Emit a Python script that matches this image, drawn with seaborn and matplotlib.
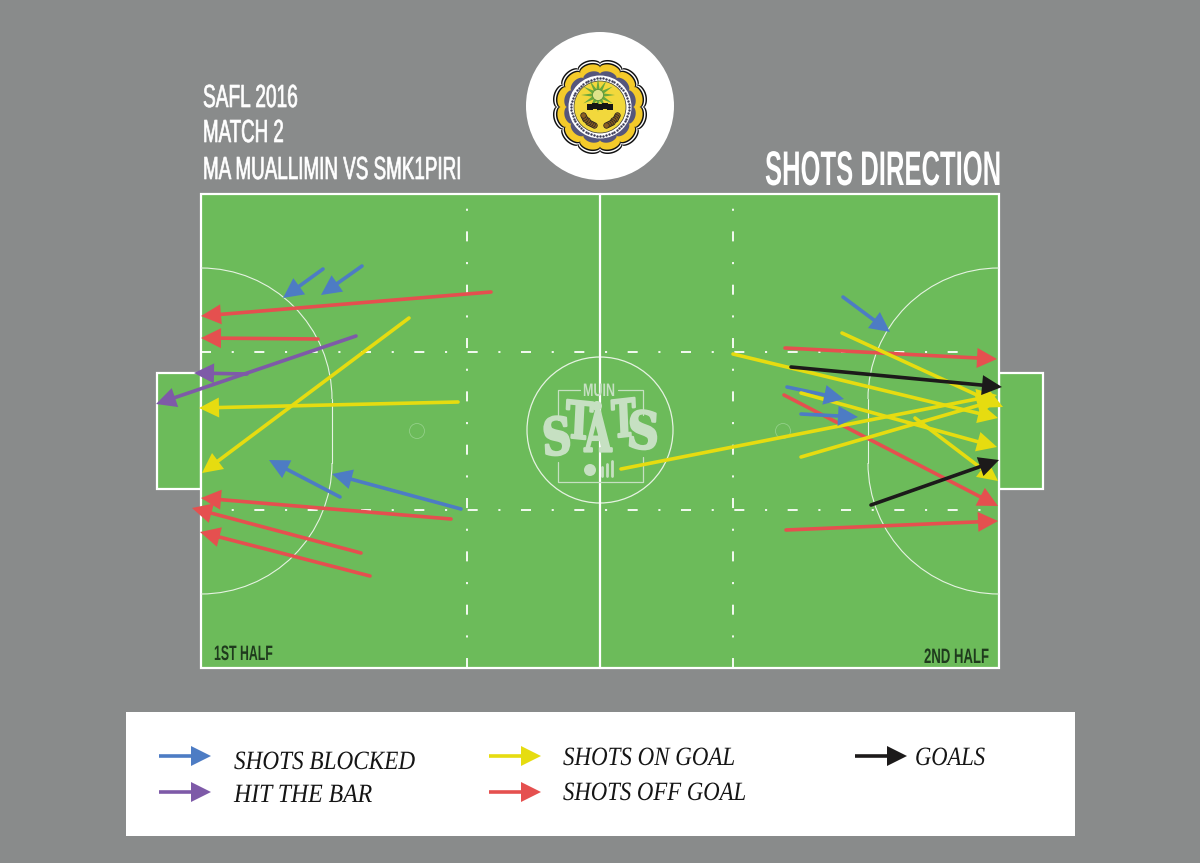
import numpy as np
import pandas as pd
import matplotlib
matplotlib.use('Agg')
import matplotlib.pyplot as plt
from matplotlib.patches import Rectangle, Circle, Arc
from matplotlib.patheffects import AbstractPathEffect
from matplotlib.transforms import Affine2D
import seaborn as sns

# shots: start x, start y, tip x, tip y
shots_off = [(491, 292, 201, 316), (318, 339, 201, 338), (451, 519, 201, 498),
             (361, 553, 192, 508), (370, 576, 200, 532),
             (785, 348, 997, 359), (784, 395, 998, 506), (786, 530, 998, 521)]
shots_blocked = [(323, 269, 283, 298), (362, 266, 321, 295), (340, 497, 269, 460),
                 (461, 509, 332, 474),
                 (843, 297, 890, 332), (787, 387, 844, 399), (801, 414, 858, 417)]
shots_bar = [(247, 374, 194, 373), (356, 336, 156, 404)]
shots_on = [(458, 402, 199, 408), (409, 318, 202, 473),
            (842, 333, 1003, 407), (733, 354, 998, 418), (801, 393, 997, 447),
            (915, 418, 998, 481), (621, 469, 997, 395), (801, 457, 997, 400)]
shots_goal = [(791, 367, 1002, 387), (871, 505, 999, 460)]

kinds = ['off', 'blocked', 'bar', 'on', 'goal']
kind_shots = [shots_off, shots_blocked, shots_bar, shots_on, shots_goal]
kind_colors = ['#e5504f', '#4d7cc4', '#7e5aa8', '#e6dc10', '#1c1a1a']

legend_labels = ['SHOTS BLOCKED', 'HIT THE BAR', 'SHOTS ON GOAL', 'SHOTS OFF GOAL', 'GOALS']
legend_kinds = ['blocked', 'bar', 'on', 'off', 'goal']

GREY = '#898b8b'
GREEN = '#6cbb5a'
PALE = '#c6e0c2'
NARROW = ['Liberation Sans Narrow', 'Liberation Sans']
HEAD_LEN = 20
HEAD_W = 10

sns.set_theme(style='white')
plt.rcParams['lines.scale_dashes'] = False
fig = plt.figure(figsize=(12, 8.63), dpi=100, facecolor=GREY)
ax = fig.add_axes([0, 0, 1, 1])
ax.set_xlim(0, 1200)
ax.set_ylim(863, 0)
ax.axis('off')
renderer = fig.canvas.get_renderer()


class Squeeze(AbstractPathEffect):
    # narrows a text sideways, none of the installed fonts is condensed enough
    def __init__(self, x0, sx, stroke=0):
        super().__init__()
        self.x0 = x0
        self.sx = sx
        self.stroke = stroke

    def draw_path(self, renderer, gc, tpath, affine, rgbFace=None):
        t = affine + Affine2D().translate(-self.x0, 0).scale(self.sx, 1).translate(self.x0, 0)
        gc0 = renderer.new_gc()
        gc0.copy_properties(gc)
        if self.stroke:
            gc0.set_linewidth(self.stroke)
            gc0.set_foreground(rgbFace)
        renderer.draw_path(gc0, tpath, t, rgbFace)
        gc0.restore()


def fit_text(s, x0, x1, base, size, stroke=0, **kw):
    # anchored on the right end, so the text before squeezing stays in the figure
    t = ax.text(x1, base, s, fontsize=size, ha='right', va='baseline', **kw)
    w = t.get_window_extent(renderer).width
    t.set_path_effects([Squeeze(ax.transData.transform((x1, base))[0], (x1 - x0) / w, stroke)])
    return t


def letter(s, x, y, size, sx, rot):
    t = ax.text(x, y, s, fontsize=size, ha='center', va='center', rotation=rot, color=PALE,
                family='DejaVu Serif', weight='bold', zorder=1.5)
    t.set_path_effects([Squeeze(ax.transData.transform((x, y))[0], sx, 1.6)])


def scallop(cx, cy, r, amp, **kw):
    th = np.linspace(0, 2 * np.pi, 721)
    rr = r + amp * np.abs(np.cos(6 * th + np.pi / 2)) ** 0.5
    ax.fill(cx + rr * np.cos(th), cy + rr * np.sin(th), **kw)


def head(x0, y0, x1, y1, color, z):
    u = np.array([x1 - x0, y1 - y0], dtype=float)
    u = u / np.hypot(*u)
    n = np.array([-u[1], u[0]])
    tip = np.array([x1, y1])
    back = tip - HEAD_LEN * u
    pts = np.array([tip, back + HEAD_W * n, back - HEAD_W * n])
    ax.fill(pts[:, 0], pts[:, 1], color=color, lw=0, zorder=z)


# pitch
ax.add_patch(Rectangle((157, 373), 44, 116, fc=GREEN, ec='white', lw=1.6))
ax.add_patch(Rectangle((999, 373), 44, 116, fc=GREEN, ec='white', lw=1.6))
ax.add_patch(Rectangle((201, 194), 798, 474, fc=GREEN, ec='white', lw=1.6, zorder=1))
ax.plot([600, 600], [194, 668], color='white', lw=1.6, zorder=1.2)

thin = dict(color='#e6f3e2', lw=0.8, zorder=1.1)
for xc, t1, t2, yc in [(201, 270, 360, 399), (201, 0, 90, 463), (999, 180, 270, 399), (999, 90, 180, 463)]:
    ax.add_patch(Arc((xc, yc), 262, 262, theta1=t1, theta2=t2, color=thin['color'], lw=thin['lw'], zorder=1.1))
ax.plot([332, 332], [399, 463], **thin)
ax.plot([868, 868], [399, 463], **thin)
ax.add_patch(Circle((600, 430), 73, fc='none', ec=thin['color'], lw=0.9, zorder=1.1))
ax.add_patch(Circle((417, 431), 7.5, fc='none', ec='#93d088', lw=0.6, zorder=1.1))
ax.add_patch(Circle((783, 431), 7.5, fc='none', ec='#93d088', lw=0.6, zorder=1.1))

pat = (7.2, 14.9, 1.5, 14.8)
for yh in [352, 510]:
    ln, = ax.plot([201, 999], [yh, yh], color='white', lw=1.3, dash_capstyle='butt', zorder=1.2)
    ln.set_linestyle((0, pat))
for xv in [467, 733]:
    ln, = ax.plot([xv, xv], [194, 668], color='white', lw=1.3, dash_capstyle='butt', zorder=1.2)
    ln.set_linestyle((11.5, pat))

# middle logo
ax.plot([558, 558, 580], [420, 390, 390], color=PALE, lw=0.9, zorder=1.4)
ax.plot([618, 643, 643], [390, 390, 415], color=PALE, lw=0.9, zorder=1.4)
ax.plot([558, 558, 643, 643], [462, 482, 482, 457], color=PALE, lw=0.9, zorder=1.4)
fit_text('MUIN', 583, 615, 396, 13, color=PALE, family=NARROW, weight='bold', zorder=1.5)
letter('S', 557, 441, 37, 0.78, 4)
letter('T', 579, 425, 37, 0.70, -4)
letter('A', 598, 436, 40, 0.62, 0)
letter('T', 624, 423, 37, 0.62, 4)
letter('S', 643, 435, 37, 0.86, -4)
ax.add_patch(Circle((597, 406), 5, fc=PALE, ec='none', zorder=1.5))
ax.add_patch(Circle((590, 470), 6, fc=PALE, ec='none', zorder=1.5))
for xb, hb in zip([602, 607, 612], [9, 12, 15]):
    ax.plot([xb, xb], [476, 476 - hb], color=PALE, lw=2, zorder=1.5)

# shots, one row per end of a shaft, the shaft stops where the head begins
rows = []
for kind, shots in zip(kinds, kind_shots):
    for i, (x0, y0, x1, y1) in enumerate(shots):
        L = np.hypot(x1 - x0, y1 - y0)
        xs = x1 - (x1 - x0) / L * (HEAD_LEN - 2)
        ys = y1 - (y1 - y0) / L * (HEAD_LEN - 2)
        rows.append({'shot': kind + str(i), 'kind': kind, 'x': x0, 'y': y0, 'step': 0})
        rows.append({'shot': kind + str(i), 'kind': kind, 'x': xs, 'y': ys, 'step': 1})
df = pd.DataFrame(rows)
sns.lineplot(data=df, x='x', y='y', hue='kind', hue_order=kinds, units='shot', estimator=None,
             sort=False, palette=dict(zip(kinds, kind_colors)), linewidth=2.6, legend=False,
             ax=ax, zorder=3)
for z, (kind, shots, col) in enumerate(zip(kinds, kind_shots, kind_colors)):
    for s in shots:
        head(*s, col, 3.1 + z * 0.1)
ax.set_xlim(0, 1200)
ax.set_ylim(863, 0)
ax.axis('off')

# texts on top
white = dict(color='white', family=NARROW)
fit_text('SAFL 2016', 203, 298, 107, 23, stroke=0.5, **white)
fit_text('MATCH 2', 203, 284, 142, 23, stroke=0.5, **white)
fit_text('MA MUALLIMIN VS SMK1PIRI', 203, 462, 179, 23, stroke=0.5, **white)
fit_text('SHOTS DIRECTION', 765, 1001, 185, 35, weight='bold', **white)
dark = dict(color='#1f3a1d', family=NARROW, weight='bold', zorder=2)
fit_text('1ST HALF', 214, 273, 660, 15, **dark)
fit_text('2ND HALF', 924, 989, 663, 15, **dark)

# school badge
ax.add_patch(Circle((600, 106), 74, fc='white', ec='none', zorder=2))
bx, by = 600, 107
scallop(bx, by, 44, 4, color='#111111', lw=0, zorder=2.1)
scallop(bx, by, 42.5, 4, color='white', lw=0, zorder=2.2)
scallop(bx, by, 41, 4, color='#111111', lw=0, zorder=2.3)
scallop(bx, by, 39.5, 4, color='#f4ca2a', lw=0, zorder=2.4)
scallop(bx, by, 33, 3.5, color='#55567c', lw=0, zorder=2.5)
ax.add_patch(Circle((bx, by), 31.5, fc='white', ec='none', zorder=2.6))
th = np.linspace(0, 2 * np.pi, 60, endpoint=False)
ax.scatter(bx + 28.8 * np.cos(th), by + 28.8 * np.sin(th), s=3, color='#3a3a55', lw=0, zorder=2.7)
ax.add_patch(Circle((bx, by), 26, fc='#f2d83c', ec='#333333', lw=0.5, zorder=2.8))
th = np.linspace(0, 2 * np.pi, 25)
rr = np.where(np.arange(25) % 2 == 0, 17, 6)
ax.fill(bx - 2 + rr * np.cos(th), by - 12 + rr * np.sin(th), color='#69a83c', lw=0, zorder=2.9)
ax.add_patch(Circle((bx - 2, by - 12), 5.5, fc='#dfe38a', ec='#4f8a32', lw=0.5, zorder=3))
ax.scatter([590, 595, 600, 605, 610], [107, 106, 107, 106, 107], s=20, marker='s', color='#151515', lw=0, zorder=3)
# laurel on both sides of the lower half
for t1, t2 in [(20, 70), (110, 160)]:
    ang = np.radians(np.linspace(t1, t2, 8))
    ax.scatter(bx + 18 * np.cos(ang), by + 2 + 17 * np.sin(ang), s=16, color='#8a5f22',
               edgecolor='#222222', lw=0.5, zorder=3)

# legend box
ax.add_patch(Rectangle((126, 712), 949, 124, fc='white', ec='none', zorder=2))
lx = [159, 159, 489, 489, 855]
ly = [756, 792, 756, 792, 756]
tx0 = [234, 234, 563, 563, 915]
tx1 = [415, 372, 735, 746, 985]
tb = [769, 802, 765, 800, 765]
cols = dict(zip(kinds, kind_colors))
for k, lab, x, y, a, b, base in zip(legend_kinds, legend_labels, lx, ly, tx0, tx1, tb):
    ax.plot([x, x + 35], [y, y], color=cols[k], lw=2.6, solid_capstyle='butt', zorder=3)
    head(x, y, x + 52, y, cols[k], 3.2)
    fit_text(lab, a, b, base, 19, color='#151515', family='Liberation Serif', style='italic', zorder=3)

fig.savefig('out.png', dpi=100, facecolor=GREY)
